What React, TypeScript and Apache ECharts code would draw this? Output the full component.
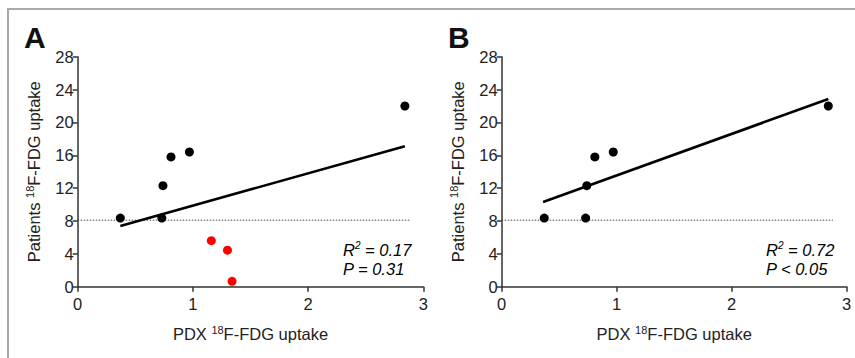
import React, { useEffect, useRef } from "react";
import * as echarts from "echarts";

// PDX 18F-FDG uptake (x) vs patients 18F-FDG uptake (y)
const pdxBlack = [0.37, 0.73, 0.74, 0.81, 0.97, 2.84];
const patientsBlack = [8.35, 8.35, 12.3, 15.8, 16.4, 22.0];
const pdxRed = [1.16, 1.3, 1.34];
const patientsRed = [5.6, 4.45, 0.65];

// regression line endpoints
const fitAx = [0.37, 2.84];
const fitAy = [7.4, 17.1];
const fitBx = [0.36, 2.84];
const fitBy = [10.3, 22.85];

// threshold (dotted)
const thresholdX = [0, 2.88];
const thresholdY = [8.1, 8.1];

const yTicks = { min: 0, max: 28, interval: 4 };
const xTicks = { min: 0, max: 3, interval: 1 };

const statsA = ["R", "2", " = 0.17", "P = 0.31"];
const statsB = ["R", "2", " = 0.72", "P < 0.05"];

const FONT = "'Liberation Sans', Arial, sans-serif";
const TXT = "#222";
const AX = "#333";

const pairs = (xs: number[], ys: number[]) => xs.map((x, i) => [x, ys[i]]);

export default function App() {
  const ref = useRef<HTMLDivElement>(null);
  useEffect(() => {
    if (!ref.current) return;
    const chart = echarts.init(ref.current, undefined, { renderer: "svg" });

    const rich = {
      n: { fontSize: 16.5, fontFamily: FONT, color: TXT, lineHeight: 18 },
      s: { fontSize: 11, fontFamily: FONT, color: TXT, verticalAlign: "top", lineHeight: 11 },
    };
    const mkX = (gi: number) => ({
      type: "value",
      gridIndex: gi,
      min: xTicks.min,
      max: xTicks.max,
      interval: xTicks.interval,
      name: "{n|PDX }{s|18}{n|F-FDG uptake}",
      nameLocation: "middle",
      nameGap: 38,
      nameTextStyle: { rich },
      splitLine: { show: false },
      axisLine: { lineStyle: { color: AX, width: 1.5 } },
      axisTick: { length: 5, lineStyle: { color: AX, width: 1.5 } },
      axisLabel: { color: TXT, fontSize: 16.5, fontFamily: FONT, margin: 9 },
    });
    const mkY = (gi: number) => ({
      type: "value",
      gridIndex: gi,
      min: yTicks.min,
      max: yTicks.max,
      interval: yTicks.interval,
      name: "{n|Patients }{s|18}{n|F-FDG uptake}",
      nameLocation: "middle",
      nameGap: 35,
      nameRotate: 90,
      nameTextStyle: { rich },
      splitLine: { show: false },
      axisLine: { show: true, lineStyle: { color: AX, width: 1.5 } },
      axisTick: { show: true, length: 5, lineStyle: { color: AX, width: 1.5 } },
      axisLabel: { color: TXT, fontSize: 16.5, fontFamily: FONT, margin: 4 },
    });

    const dotted = (gi: number) => ({
      type: "line",
      xAxisIndex: gi,
      yAxisIndex: gi,
      data: pairs(thresholdX, thresholdY),
      symbol: "none",
      lineStyle: { color: "#444", width: 1, type: [1.5, 1.5] },
      z: 1,
    });
    const fit = (gi: number, xs: number[], ys: number[]) => ({
      type: "line",
      xAxisIndex: gi,
      yAxisIndex: gi,
      data: pairs(xs, ys),
      symbol: "none",
      lineStyle: { color: "#000", width: 2.6 },
      z: 2,
    });
    const dots = (gi: number, xs: number[], ys: number[], color: string) => ({
      type: "scatter",
      xAxisIndex: gi,
      yAxisIndex: gi,
      data: pairs(xs, ys),
      symbolSize: 9,
      itemStyle: { color, opacity: 1 },
      z: 3,
    });

    const statText = (left: number, st: string[]) => ({
      type: "text",
      left,
      top: 240,
      style: {
        text: `{i|${st[0]}}{sup|${st[1]}}{i|${st[2]}}\n{i|${st[3]}}`,
        rich: {
          i: { fontSize: 16.5, fontStyle: "italic", fontFamily: FONT, color: TXT, lineHeight: 19 },
          sup: { fontSize: 10, fontStyle: "italic", fontFamily: FONT, color: TXT, verticalAlign: "top", lineHeight: 10 },
        },
      },
    });

    chart.setOption({
      animation: false,
      backgroundColor: "#fff",
      grid: [
        { left: 77.7, right: 431.7, top: 56.7, bottom: 71.3 },
        { left: 501.7, right: 8.3, top: 56.7, bottom: 71.3 },
      ],
      xAxis: [mkX(0), mkX(1)],
      yAxis: [mkY(0), mkY(1)],
      series: [
        dotted(0),
        fit(0, fitAx, fitAy),
        dots(0, pdxBlack, patientsBlack, "#000"),
        dots(0, pdxRed, patientsRed, "#ff0000"),
        dotted(1),
        fit(1, fitBx, fitBy),
        dots(1, pdxBlack, patientsBlack, "#000"),
      ],
      graphic: [
        {
          type: "polyline",
          shape: { points: [[8, 358], [8, 9], [855, 9]] },
          style: { stroke: "#aaa", lineWidth: 2, fill: null },
          silent: true,
        },
        {
          type: "text",
          left: 24,
          top: 22,
          style: { text: "A", fontSize: 30, fontWeight: "bold", fontFamily: FONT, fill: "#111" },
        },
        {
          type: "text",
          left: 448,
          top: 22,
          style: { text: "B", fontSize: 30, fontWeight: "bold", fontFamily: FONT, fill: "#111" },
        },
        statText(343, statsA),
        statText(766, statsB),
      ],
    });
    return () => chart.dispose();
  }, []);
  return (
    <div
      ref={ref}
      style={{ position: "absolute", left: 0, top: 0, width: 855, height: 358 }}
    />
  );
}
